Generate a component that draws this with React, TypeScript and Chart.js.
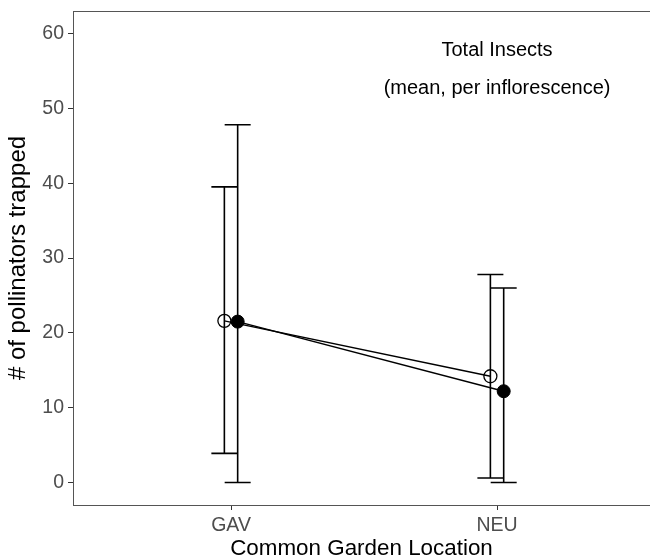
import React, { useEffect, useRef } from "react";
import { Chart, registerables } from "chart.js";

Chart.register(...registerables);

const categories = ["GAV", "NEU"];
const openMean = [21.6, 14.2];
const openLower = [3.9, 0.6];
const openUpper = [39.5, 27.8];
const filledMean = [21.5, 12.2];
const filledLower = [0, 0];
const filledUpper = [47.8, 26.0];
const yTicks = [0, 10, 20, 30, 40, 50, 60];
const annotationLines = ["Total Insects", "(mean, per inflorescence)"];
const annotationY = [57.7, 52.7];
const annotationX = 2;
const dodge = 0.025;

const FONT = "'Liberation Sans', Arial, sans-serif";

const groups = [
  { mean: openMean, lower: openLower, upper: openUpper, off: -dodge },
  { mean: filledMean, lower: filledLower, upper: filledUpper, off: dodge },
];

const errorBarPlugin = {
  id: "errorBars",
  beforeDatasetsDraw(chart: any) {
    const { ctx, scales } = chart;
    const xs = scales.x;
    const ys = scales.y;
    ctx.save();
    ctx.strokeStyle = "#000";
    ctx.lineWidth = 1.6;
    const half = 13;
    groups.forEach((g) => {
      categories.forEach((_, i) => {
        const px = xs.getPixelForValue(i + 1 + g.off);
        const pl = ys.getPixelForValue(g.lower[i]);
        const pu = ys.getPixelForValue(g.upper[i]);
        ctx.beginPath();
        ctx.moveTo(px, pl);
        ctx.lineTo(px, pu);
        ctx.moveTo(px - half, pl);
        ctx.lineTo(px + half, pl);
        ctx.moveTo(px - half, pu);
        ctx.lineTo(px + half, pu);
        ctx.stroke();
      });
    });
    ctx.restore();
  },
  afterDraw(chart: any) {
    const { ctx, chartArea, scales } = chart;
    ctx.save();
    ctx.strokeStyle = "#555";
    ctx.lineWidth = 1;
    ctx.beginPath();
    ctx.moveTo(chartArea.left, chartArea.top + 0.5);
    ctx.lineTo(chartArea.right + 10, chartArea.top + 0.5);
    ctx.moveTo(chartArea.left, chartArea.bottom + 0.5);
    ctx.lineTo(chartArea.right + 10, chartArea.bottom + 0.5);
    ctx.stroke();
    ctx.fillStyle = "#000";
    ctx.font = `20px ${FONT}`;
    ctx.textAlign = "center";
    ctx.textBaseline = "middle";
    annotationLines.forEach((t, i) => {
      ctx.fillText(
        t,
        scales.x.getPixelForValue(annotationX),
        scales.y.getPixelForValue(annotationY[i])
      );
    });
    ctx.restore();
  },
};

export default function App() {
  const ref = useRef<HTMLCanvasElement | null>(null);
  useEffect(() => {
    if (!ref.current) return;
    const chart = new Chart(ref.current, {
      type: "scatter",
      data: {
        datasets: [
          {
            data: categories.map((_, i) => ({ x: i + 1 - dodge, y: openMean[i] })),
            showLine: true,
            borderColor: "#000",
            borderWidth: 1.5,
            pointRadius: 6.5,
            pointBorderWidth: 1.3,
            pointBackgroundColor: "rgba(0,0,0,0)",
            pointBorderColor: "#000",
          },
          {
            data: categories.map((_, i) => ({ x: i + 1 + dodge, y: filledMean[i] })),
            showLine: true,
            borderColor: "#000",
            borderWidth: 1.5,
            pointRadius: 6.5,
            pointBorderWidth: 1,
            pointBackgroundColor: "#000",
            pointBorderColor: "#000",
          },
        ],
      },
      options: {
        animation: false,
        responsive: false,
        devicePixelRatio: 1,
        layout: { autoPadding: false, padding: { top: 11, right: 0, left: 0, bottom: 0 } },
        plugins: { legend: { display: false }, tooltip: { enabled: false } },
        scales: {
          x: {
            type: "linear",
            min: 0.406,
            max: 2.575,
            afterBuildTicks: (s: any) => {
              s.ticks = categories.map((_, i) => ({ value: i + 1 }));
            },
            afterFit: (s: any) => {
              s.height = 55;
              s.paddingLeft = 0;
              s.paddingRight = 0;
            },
            ticks: {
              callback: (v: any) => categories[Math.round(Number(v)) - 1] ?? "",
              color: "#4d4d4d",
              font: { family: FONT, size: 19.5 },
              padding: 4,
              maxRotation: 0,
            },
            grid: { drawOnChartArea: false, drawTicks: true, tickLength: 5, color: "#333" },
            border: { display: false },
            title: {
              display: true,
              text: "Common Garden Location",
              color: "#000",
              font: { family: FONT, size: 22.4 },
              padding: { top: 0, bottom: -2 },
            },
          },
          y: {
            type: "linear",
            min: -3,
            max: 63,
            afterBuildTicks: (s: any) => {
              s.ticks = yTicks.map((v) => ({ value: v }));
            },
            afterFit: (s: any) => {
              s.width = 73;
              s.paddingTop = 0;
              s.paddingBottom = 0;
            },
            ticks: {
              color: "#4d4d4d",
              font: { family: FONT, size: 19.5 },
              padding: 4,
            },
            grid: { drawOnChartArea: false, drawTicks: true, tickLength: 5, color: "#333" },
            border: { display: true, color: "#555", width: 1 },
            title: {
              display: true,
              text: "# of pollinators trapped",
              color: "#000",
              font: { family: FONT, size: 24 },
              padding: { top: 4, bottom: 0 },
            },
          },
        },
      },
      plugins: [errorBarPlugin],
    });
    return () => chart.destroy();
  }, []);
  return (
    <div style={{ position: "fixed", left: 0, top: 0, width: 650, height: 560, background: "#fff" }}>
      <canvas ref={ref} width={650} height={560} style={{ width: 650, height: 560, display: "block" }} />
    </div>
  );
}
